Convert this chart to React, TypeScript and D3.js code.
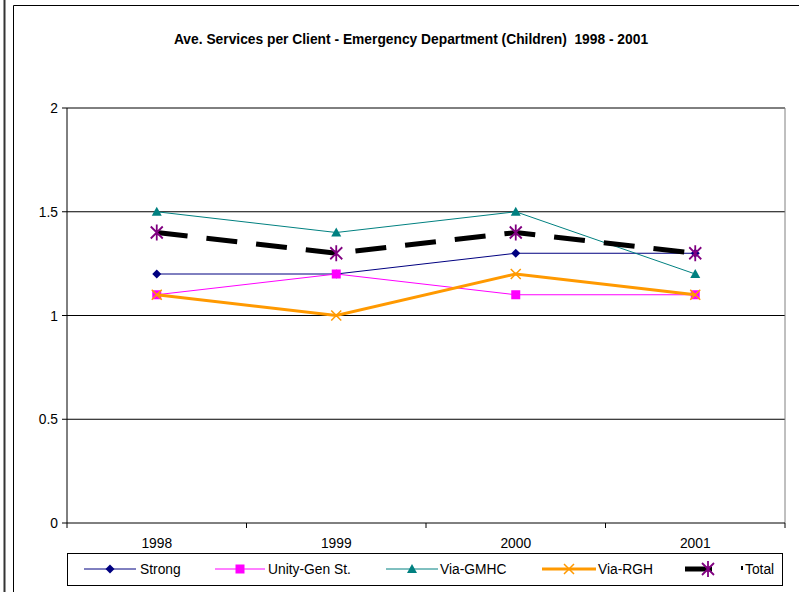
import React from "react";
import * as d3 from "d3";

const years = ["1998", "1999", "2000", "2001"];
const strong = [1.2, 1.2, 1.3, 1.3];
const unity = [1.1, 1.2, 1.1, 1.1];
const gmhc = [1.5, 1.4, 1.5, 1.2];
const rgh = [1.1, 1.0, 1.2, 1.1];
const total = [1.4, 1.3, 1.4, 1.3];
const yTicks = [0, 0.5, 1, 1.5, 2];
const yTickLabels = ["0", "0.5", "1", "1.5", "2"];

type Marker = "diamond" | "square" | "triangle" | "x" | "star";
interface Series { name: string; values: number[]; color: string; width: number; dash?: string; marker: Marker; markerColor: string; }

const series: Series[] = [
  { name: "Strong", values: strong, color: "#000080", width: 1, marker: "diamond", markerColor: "#000080" },
  { name: "Unity-Gen St.", values: unity, color: "#FF00FF", width: 1, marker: "square", markerColor: "#FF00FF" },
  { name: "Via-GMHC", values: gmhc, color: "#008080", width: 1, marker: "triangle", markerColor: "#008080" },
  { name: "Via-RGH", values: rgh, color: "#FF9900", width: 3, marker: "x", markerColor: "#FF9900" },
  { name: "Total", values: total, color: "#000000", width: 5, dash: "31,19", marker: "star", markerColor: "#800080" },
];

const FONT = "'Liberation Sans', Arial, sans-serif";

function MarkerShape({ type, x, y, color }: { type: Marker; x: number; y: number; color: string }) {
  switch (type) {
    case "diamond":
      return <path d={`M${x},${y - 4.5}L${x + 4.5},${y}L${x},${y + 4.5}L${x - 4.5},${y}Z`} fill={color} />;
    case "square":
      return <rect x={x - 4.5} y={y - 4.5} width={9} height={9} fill={color} />;
    case "triangle":
      return <path d={`M${x},${y - 5}L${x + 5},${y + 4}L${x - 5},${y + 4}Z`} fill={color} />;
    case "x":
      return <path d={`M${x - 5},${y - 5}L${x + 5},${y + 5}M${x - 5},${y + 5}L${x + 5},${y - 5}`} stroke={color} strokeWidth={1.5} fill="none" />;
    case "star":
      return <path d={`M${x - 6},${y - 6}L${x + 6},${y + 6}M${x - 6},${y + 6}L${x + 6},${y - 6}M${x},${y - 8}L${x},${y + 8}`} stroke={color} strokeWidth={1.8} fill="none" />;
  }
}

export default function App() {
  const W = 799, H = 592;
  const left = 67, right = 785, top = 108, bottom = 523;
  const x = d3.scaleBand<string>().domain(years).range([left, right]);
  const y = d3.scaleLinear().domain([0, 2]).range([bottom, top]);
  const cx = (d: string) => (x(d) as number) + x.bandwidth() / 2;
  const line = d3.line<number>().x((_, i) => cx(years[i])).y((v) => y(v));

  const legendItems = [
    { lx1: 84, lx2: 136, mx: 110, tx: 140 },
    { lx1: 215, lx2: 265, mx: 240, tx: 268 },
    { lx1: 386, lx2: 438, mx: 412, tx: 440 },
    { lx1: 542, lx2: 596, mx: 569, tx: 598 },
    { lx1: 685, lx2: 712, mx: 708, tx: 745 },
  ];
  const ly = 569;
  const FS = 13.8;

  return (
    <svg width={W} height={H} style={{ position: "absolute", left: 0, top: 0 }} fontFamily={FONT}>
      <rect x={0} y={0} width={W} height={H} fill="#fff" />
      <line x1={4.5} y1={0} x2={4.5} y2={H} stroke="#333" strokeWidth={2} />
      <path d={`M13.5,${H}L13.5,5.5L${W},5.5`} stroke="#000" strokeWidth={1} fill="none" />
      <text x={411} y={44} textAnchor="middle" fontSize={13.8} fontWeight="bold" style={{ whiteSpace: "pre" }}>
        {"Ave. Services per Client - Emergency Department (Children)  1998 - 2001"}
      </text>
      {yTicks.filter((t) => t > 0).map((t) => (
        <line key={t} x1={left} x2={right} y1={y(t)} y2={y(t)} stroke="#000" strokeWidth={1} />
      ))}
      <line x1={right} x2={right} y1={top} y2={bottom} stroke="#808080" strokeWidth={1} />
      <line x1={left} x2={left} y1={top} y2={bottom} stroke="#000" />
      <line x1={left} x2={right} y1={bottom} y2={bottom} stroke="#000" />
      {yTicks.map((t, i) => (
        <g key={t}>
          <line x1={left - 5} x2={left} y1={y(t)} y2={y(t)} stroke="#000" />
          <text x={58} y={y(t) + 5} textAnchor="end" fontSize={FS}>{yTickLabels[i]}</text>
        </g>
      ))}
      {years.map((yr) => (
        <g key={yr}>
          <line x1={(x(yr) as number) + x.bandwidth()} x2={(x(yr) as number) + x.bandwidth()} y1={bottom} y2={bottom + 5} stroke="#000" />
          <text x={cx(yr)} y={548} textAnchor="middle" fontSize={FS}>{yr}</text>
        </g>
      ))}
      <line x1={left} x2={left} y1={bottom} y2={bottom + 5} stroke="#000" />
      {series.map((s) => (
        <g key={s.name}>
          <path d={line(s.values) as string} fill="none" stroke={s.color} strokeWidth={s.width} strokeDasharray={s.dash} />
          {s.values.map((v, i) => (
            <MarkerShape key={i} type={s.marker} x={cx(years[i])} y={y(v)} color={s.markerColor} />
          ))}
        </g>
      ))}
      <rect x={67.5} y={553.5} width={715} height={32} fill="#fff" stroke="#000" />
      {series.map((s, i) => {
        const it = legendItems[i];
        return (
          <g key={s.name}>
            <line x1={it.lx1} x2={it.lx2} y1={ly} y2={ly} stroke={s.color} strokeWidth={s.width} />
            <MarkerShape type={s.marker} x={it.mx} y={ly} color={s.markerColor} />
            {s.name === "Total" && <rect x={741} y={566} width={2} height={4} fill="#000" />}
            <text x={it.tx} y={ly + 5} fontSize={FS}>{s.name}</text>
          </g>
        );
      })}
    </svg>
  );
}
